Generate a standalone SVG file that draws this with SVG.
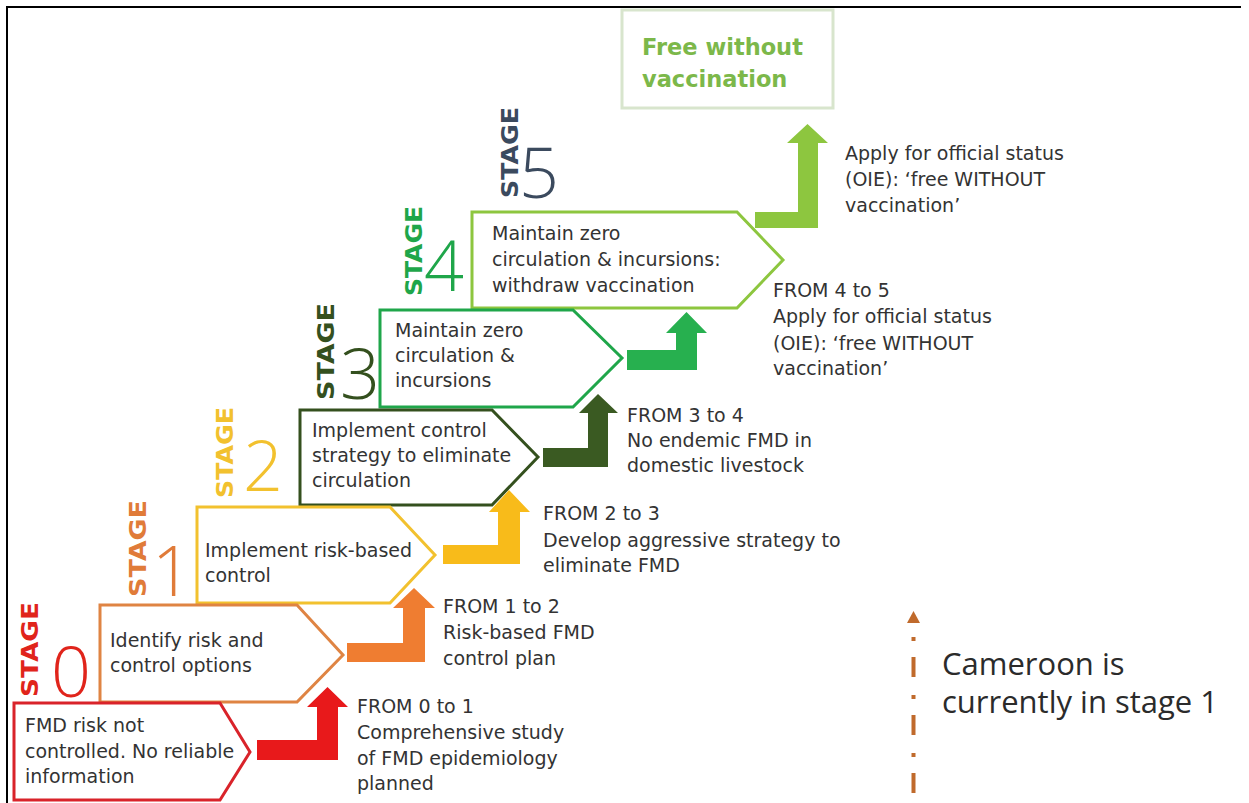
<svg xmlns="http://www.w3.org/2000/svg" width="1249" height="803" viewBox="0 0 1249 803">
<style>
.box{fill:#fff;stroke-width:3;stroke-linejoin:miter}
.t{font-family:"DejaVu Sans",Verdana,sans-serif;font-size:19px;fill:#333}
.st{font-family:"DejaVu Sans",Verdana,sans-serif;font-size:23px;font-weight:bold}
.dg{font-family:"Open Sans","Noto Sans",sans-serif;font-weight:300;font-size:70px}
</style>
<rect width="1249" height="803" fill="#fff"/>
<path d="M7,803 V7 H1241" fill="none" stroke="#000" stroke-width="2"/>

<g id="free">
<rect x="622" y="10" width="211" height="98" fill="#fff" stroke="#d8e5cd" stroke-width="3"/>
<text x="642" y="55" font-family="DejaVu Sans,Verdana,sans-serif" font-weight="bold" font-size="22.5" fill="#7cb84a">Free without</text>
<text x="642" y="87" font-family="DejaVu Sans,Verdana,sans-serif" font-weight="bold" font-size="22.5" fill="#7cb84a">vaccination</text>
</g>

<g id="stage5">
<polygon class="box" stroke="#8dc63f" points="472,212 737,212 783,260 737,308 472,308"/>
<text class="st" fill="#3b4a5e" transform="translate(518,198) rotate(-90)" textLength="91" lengthAdjust="spacingAndGlyphs">STAGE</text>
<text class="dg" fill="#3b4a5e" x="519" y="198">5</text>
<text class="t" x="492" y="240">Maintain zero</text>
<text class="t" x="492" y="266">circulation &amp; incursions:</text>
<text class="t" x="492" y="292">withdraw vaccination</text>
</g>

<g id="stage4">
<polygon class="box" stroke="#1fa64a" points="380,310 573,310 622,358 573,407 380,407"/>
<text class="st" fill="#1fa64a" transform="translate(422,296) rotate(-90)" textLength="90" lengthAdjust="spacingAndGlyphs">STAGE</text>
<text class="dg" fill="#1fa64a" x="424" y="291">4</text>
<text class="t" x="395" y="337">Maintain zero</text>
<text class="t" x="395" y="362">circulation &amp;</text>
<text class="t" x="395" y="387">incursions</text>
</g>

<g id="stage3">
<polygon class="box" stroke="#34501e" points="300,410 492,410 538,457 492,505 300,505"/>
<text class="st" fill="#34501e" transform="translate(334,400) rotate(-90)" textLength="97" lengthAdjust="spacingAndGlyphs">STAGE</text>
<text class="dg" fill="#34501e" x="340" y="399">3</text>
<text class="t" x="312" y="437">Implement control</text>
<text class="t" x="312" y="462">strategy to eliminate</text>
<text class="t" x="312" y="487">circulation</text>
</g>

<g id="stage2">
<polygon class="box" stroke="#f2c12e" points="197,507 390,507 435,555 390,603 197,603"/>
<text class="st" fill="#f2c12e" transform="translate(233,498) rotate(-90)" textLength="91" lengthAdjust="spacingAndGlyphs">STAGE</text>
<text class="dg" fill="#f2c12e" x="243" y="491">2</text>
<text class="t" x="205" y="557">Implement risk-based</text>
<text class="t" x="205" y="582">control</text>
</g>

<g id="stage1">
<polygon class="box" stroke="#df8443" points="100,605 297,605 343,655 297,702 100,702"/>
<text class="st" fill="#e07b39" transform="translate(146,597) rotate(-90)" textLength="97" lengthAdjust="spacingAndGlyphs">STAGE</text>
<text class="dg" fill="#e07b39" x="152" y="596">1</text>
<text class="t" x="110" y="647">Identify risk and</text>
<text class="t" x="110" y="672">control options</text>
</g>

<g id="stage0">
<polygon class="box" stroke="#d9232a" points="14,703 220,703 250,752 220,800 14,800"/>
<text class="st" fill="#e0241b" transform="translate(38,697) rotate(-90)" textLength="95" lengthAdjust="spacingAndGlyphs">STAGE</text>
<text class="dg" fill="#e0241b" x="51" y="697">0</text>
<text class="t" x="25" y="732">FMD risk not</text>
<text class="t" x="25" y="758">controlled. No reliable</text>
<text class="t" x="25" y="783">information</text>
</g>

<g id="connectors">
<polygon fill="#e8191b" points="257,740 317,740 317,707 307,707 327.5,687 348,707 338,707 338,760 257,760"/>
<polygon fill="#ef7d31" points="347,643 403,643 403,608 393,608 414,588 435,608 425,608 425,662 347,662"/>
<polygon fill="#f8bb1a" points="443,545 498,545 498,512 489,512 509,490 530,512 520,512 520,564 443,564"/>
<polygon fill="#3a5a22" points="543,448 588,448 588,413 579,413 598,394 618,413 608,413 608,467 543,467"/>
<polygon fill="#27b04f" points="627,350 676,350 676,333 666,333 686.5,312 707,333 697,333 697,370 627,370"/>
<polygon fill="#8dc63f" points="755,212 798,212 798,143 787,143 807.5,124 828,143 818,143 818,228 755,228"/>
<path d="M913.5,793 V624" fill="none" stroke="#c06a2c" stroke-width="4" stroke-dasharray="20 16 4 18"/>
<polygon fill="#c06a2c" points="907,623 920,623 913.5,611"/>
</g>

<g id="labels">
<text class="t" x="357" y="713">FROM 0 to 1</text>
<text class="t" x="357" y="739">Comprehensive study</text>
<text class="t" x="357" y="765">of FMD epidemiology</text>
<text class="t" x="357" y="790">planned</text>

<text class="t" x="443" y="613">FROM 1 to 2</text>
<text class="t" x="443" y="639">Risk-based FMD</text>
<text class="t" x="443" y="665">control plan</text>

<text class="t" x="543" y="520">FROM 2 to 3</text>
<text class="t" x="543" y="547">Develop aggressive strategy to</text>
<text class="t" x="543" y="572">eliminate FMD</text>

<text class="t" x="627" y="422">FROM 3 to 4</text>
<text class="t" x="627" y="447">No endemic FMD in</text>
<text class="t" x="627" y="472">domestic livestock</text>

<text class="t" x="773" y="297">FROM 4 to 5</text>
<text class="t" x="773" y="323">Apply for official status</text>
<text class="t" x="773" y="350">(OIE): ‘free WITHOUT</text>
<text class="t" x="773" y="375">vaccination’</text>

<text class="t" x="845" y="160">Apply for official status</text>
<text class="t" x="845" y="186">(OIE): ‘free WITHOUT</text>
<text class="t" x="845" y="212">vaccination’</text>

<text x="942" y="675" font-family="Open Sans,Noto Sans,sans-serif" font-size="31" fill="#2b2b2b">Cameroon is</text>
<text x="942" y="713" font-family="Open Sans,Noto Sans,sans-serif" font-size="31" fill="#2b2b2b">currently in stage 1</text>
</g>
</svg>
